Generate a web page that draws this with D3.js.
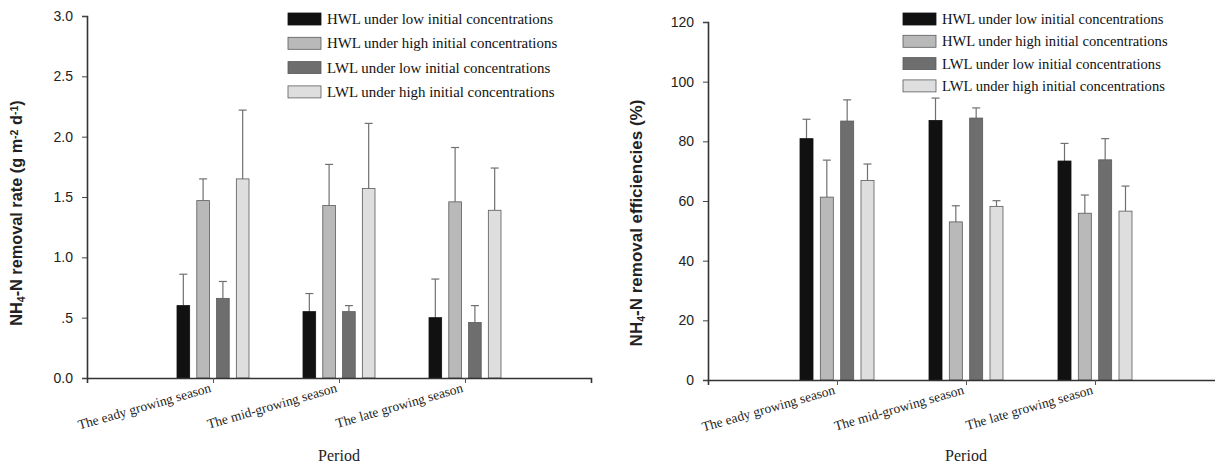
<!DOCTYPE html>
<html>
<head>
<meta charset="utf-8">
<script src="https://cdn.jsdelivr.net/npm/d3@7"></script>
<style>
    body { margin: 0; background: #fff; }
    svg { display: block; }
    .serif { font-family: "Liberation Serif", "DejaVu Serif", serif; }
    .sans { font-family: "Liberation Sans", Arial, sans-serif; }
</style>
</head>
<body>
<svg id="chart" width="1215" height="469"></svg>
<script>

// series / categories
const seriesNames = [
    'HWL under low initial concentrations',
    'HWL under high initial concentrations',
    'LWL under low initial concentrations',
    'LWL under high initial concentrations'
];
const seriesColors = ['#111111', '#b9b9b9', '#6e6e6e', '#dedede'];
const periods = ['The eady growing season', 'The mid-growing season', 'The late growing season'];

// left panel: removal rate (g m-2 d-1), mean and mean+sd, per series per period
const rateMean = [
    [0.60, 0.55, 0.50],
    [1.47, 1.43, 1.46],
    [0.66, 0.55, 0.46],
    [1.65, 1.57, 1.39]
];
const rateTop = [
    [0.86, 0.70, 0.82],
    [1.65, 1.77, 1.91],
    [0.80, 0.60, 0.60],
    [2.22, 2.11, 1.74]
];
const rateTicks = [0, 0.5, 1.0, 1.5, 2.0, 2.5, 3.0];
const rateTickLabels = ['0.0', '.5', '1.0', '1.5', '2.0', '2.5', '3.0'];

// right panel: removal efficiency (%)
const effMean = [
    [80.9, 87.0, 73.4],
    [61.3, 53.0, 55.9],
    [86.8, 87.8, 73.8],
    [66.9, 58.2, 56.6]
];
const effTop = [
    [87.4, 94.5, 79.3],
    [73.7, 58.4, 62.0],
    [93.9, 91.2, 80.9],
    [72.4, 60.1, 65.0]
];
const effTicks = [0, 20, 40, 60, 80, 100, 120];
const effTickLabels = ['0', '20', '40', '60', '80', '100', '120'];

const svg = d3.select('#chart');

drawPanel({
    x0: 87, x1: 591, y0: 378, y1: 16,
    yMax: 3.0, ticks: rateTicks, tickLabels: rateTickLabels,
    mean: rateMean, top: rateTop,
    titleX: 22, titleSize: 16.3, titleY: 213,
    titleParts: [['NH', 0], ['4', -1], ['-N removal rate (g m', 0], ['-2', 1], [' d', 0], ['-1', 1], [')', 0]],
    legendX: 288, legendY: 13, legendStep: 24.3, legendSize: 14.9,
    barSpan: 72
});

drawPanel({
    x0: 708, x1: 1224, y0: 380, y1: 22,
    yMax: 120, ticks: effTicks, tickLabels: effTickLabels,
    mean: effMean, top: effTop,
    titleX: 642, titleSize: 17, titleY: 223,
    titleParts: [['NH', 0], ['4', -1], ['-N removal efficiencies (%)', 0]],
    legendX: 903, legendY: 13, legendStep: 22.3, legendSize: 14.6,
    barSpan: 74
});

function drawPanel (p) {
    const g = svg.append('g');

    const x = d3.scaleLinear().domain([0, 4]).range([p.x0, p.x1]);
    const y = d3.scaleLinear().domain([0, p.yMax]).range([p.y0, p.y1]);
    const inner = d3.scaleBand()
        .domain(d3.range(seriesNames.length))
        .range([-p.barSpan / 2, p.barSpan / 2])
        .paddingInner(0.36);

    // bars + error bars
    seriesNames.forEach(function (name, s) {
        const data = periods.map(function (per, i) {
            return {i: i, m: p.mean[s][i], t: p.top[s][i]};
        });
        const cx = d => x(d.i + 1) + inner(s) + inner.bandwidth() / 2;

        g.selectAll('.err' + s)
            .data(data)
            .enter().append('line')
            .attr('x1', cx).attr('x2', cx)
            .attr('y1', d => y(d.m)).attr('y2', d => y(d.t))
            .attr('stroke', '#707070').attr('stroke-width', 1.2);

        g.selectAll('.cap' + s)
            .data(data)
            .enter().append('line')
            .attr('x1', d => cx(d) - 4).attr('x2', d => cx(d) + 4)
            .attr('y1', d => y(d.t)).attr('y2', d => y(d.t))
            .attr('stroke', '#707070').attr('stroke-width', 1.2);

        g.selectAll('.bar' + s)
            .data(data)
            .enter().append('rect')
            .attr('x', d => x(d.i + 1) + inner(s))
            .attr('width', inner.bandwidth())
            .attr('y', d => y(d.m))
            .attr('height', d => y(0) - y(d.m))
            .attr('fill', seriesColors[s])
            .attr('stroke', s === 0 ? '#111' : '#5a5a5a')
            .attr('stroke-width', 0.8);
    });

    // y axis
    const yAxis = d3.axisLeft(y)
        .tickValues(p.ticks)
        .tickFormat((d, i) => p.tickLabels[i])
        .tickSizeOuter(0)
        .tickSize(5)
        .tickPadding(9);
    const ya = g.append('g')
        .attr('transform', 'translate(' + p.x0 + ',0)')
        .call(yAxis);
    ya.selectAll('text')
        .attr('class', 'sans')
        .attr('font-size', 14)
        .attr('fill', '#222');

    // x axis
    const xAxis = d3.axisBottom(x)
        .tickValues([1, 2, 3])
        .tickFormat((d) => periods[d - 1])
        .tickSizeOuter(0)
        .tickSize(5);
    const xa = g.append('g')
        .attr('transform', 'translate(0,' + p.y0 + ')')
        .call(xAxis);
    xa.selectAll('.tick line').attr('stroke', '#555');
    xa.selectAll('text')
        .attr('class', 'serif')
        .attr('font-size', 13.5)
        .attr('fill', '#222')
        .attr('text-anchor', 'end')
        .attr('dy', 0)
        .attr('transform', 'translate(-4,6) rotate(-16)');

    g.selectAll('.domain').attr('stroke', '#333').attr('stroke-width', 1.6);
    ya.selectAll('.tick line').attr('stroke', '#444');

    // axis titles
    const t = g.append('text')
        .attr('class', 'sans')
        .attr('font-size', p.titleSize)
        .attr('font-weight', 'bold')
        .attr('fill', '#222')
        .attr('text-anchor', 'middle')
        .attr('transform', 'translate(' + p.titleX + ',' + p.titleY + ') rotate(-90)');
    p.titleParts.forEach(function (part) {
        const ts = t.append('tspan').text(part[0]);
        if (part[1] === -1) ts.attr('baseline-shift', '-30%').attr('font-size', 10.5);
        if (part[1] === 1) ts.attr('baseline-shift', '40%').attr('font-size', 10.5);
    });

    g.append('text')
        .attr('class', 'serif')
        .attr('font-size', 16)
        .attr('fill', '#222')
        .attr('text-anchor', 'middle')
        .attr('x', x(2))
        .attr('y', 461)
        .text('Period');

    // legend
    const leg = g.append('g').attr('transform', 'translate(' + p.legendX + ',' + p.legendY + ')');
    seriesNames.forEach(function (name, s) {
        const row = leg.append('g').attr('transform', 'translate(0,' + s * p.legendStep + ')');
        row.append('rect')
            .attr('width', 33).attr('height', 12)
            .attr('fill', seriesColors[s])
            .attr('stroke', s === 0 ? '#111' : '#5a5a5a')
            .attr('stroke-width', 0.8);
        row.append('text')
            .attr('class', 'serif')
            .attr('font-size', p.legendSize)
            .attr('fill', '#111')
            .attr('x', 39).attr('y', 11)
            .text(name);
    });
}
</script>
</body>
</html>
